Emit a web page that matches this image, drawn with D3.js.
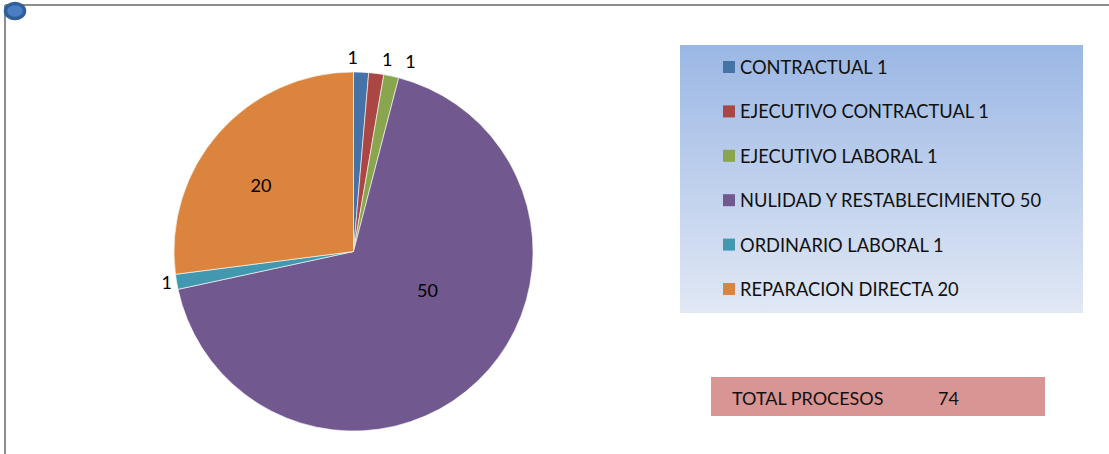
<!DOCTYPE html>
<html>
<head>
<meta charset="utf-8">
<script src="https://cdn.jsdelivr.net/npm/d3@7"></script>
<style>
  body { margin: 0; background: #fff; }
  svg { display: block; font-family: Lato, "Open Sans", sans-serif; }
</style>
</head>
<body>
<svg id="chart"></svg>
<script>
// Data
const categories = ["CONTRACTUAL", "EJECUTIVO CONTRACTUAL", "EJECUTIVO LABORAL",
  "NULIDAD Y RESTABLECIMIENTO", "ORDINARIO LABORAL", "REPARACION DIRECTA"];
const values = [1, 1, 1, 50, 1, 20];
const colors = ["#4572A7", "#AA4643", "#89A54E", "#71588F", "#4198AF", "#DB843D"];
const totalLabel = "TOTAL PROCESOS";

// label placement tweaks (Excel best fit style)
const labelOffsets = [[-9, 0], [9, 0], [16, 0], [-3, -42], [5, -2], [-9, 7]];

const width = 1109, height = 454;
const svg = d3.select("#chart")
  .attr("width", width)
  .attr("height", height);

// frame lines
svg.append("line")
  .attr("x1", 5).attr("x2", width).attr("y1", 5).attr("y2", 5)
  .attr("stroke", "#8c8c8c").attr("stroke-width", 2);
svg.append("line")
  .attr("x1", 5).attr("x2", 5).attr("y1", 5).attr("y2", height)
  .attr("stroke", "#8c8c8c").attr("stroke-width", 2);
svg.append("ellipse")
  .attr("cx", 15).attr("cy", 11).attr("rx", 9.5).attr("ry", 7.5)
  .attr("fill", "#4a7fc4").attr("stroke", "#2f5f9a").attr("stroke-width", 3.5);

// pie
const cx = 353.5, cy = 251.5, r = 179.5;
const total = d3.sum(values);
const data = categories.map((c, i) => ({ name: c, value: values[i], i: i }));

const pie = d3.pie().value(d => d.value).sort(null);
const arc = d3.arc().innerRadius(0).outerRadius(r);
const arcs = pie(data);

const g = svg.append("g").attr("transform", `translate(${cx},${cy})`);

g.selectAll("path")
  .data(arcs)
  .enter()
  .append("path")
  .attr("d", arc)
  .attr("fill", d => colors[d.data.i])
  .attr("stroke", "#fff")
  .attr("stroke-width", 0.6);

// data labels: small slices outside, big slices inside
const outerArc = d3.arc().innerRadius(r + 15).outerRadius(r + 15);
const innerArc = d3.arc().innerRadius(r * 0.62).outerRadius(r * 0.62);

g.selectAll(".lbl")
  .data(arcs)
  .enter()
  .append("text")
  .attr("class", "lbl")
  .attr("transform", d => {
    const p = (d.data.value / total > 0.1 ? innerArc : outerArc).centroid(d);
    const o = labelOffsets[d.data.i];
    return `translate(${p[0] + o[0]},${p[1] + o[1]})`;
  })
  .attr("text-anchor", "middle")
  .attr("dominant-baseline", "central")
  .attr("font-size", 18)
  .attr("fill", "#000")
  .text(d => d.data.value);

// legend box with gradient
const defs = svg.append("defs");
const grad = defs.append("linearGradient")
  .attr("id", "legGrad")
  .attr("x1", 0).attr("x2", 0).attr("y1", 0).attr("y2", 1);
grad.append("stop").attr("offset", "0%").attr("stop-color", "#9BB7E4");
grad.append("stop").attr("offset", "100%").attr("stop-color", "#E1E8F5");

const legX = 680, legY = 45, legW = 403, legH = 268;
svg.append("rect")
  .attr("x", legX).attr("y", legY)
  .attr("width", legW).attr("height", legH)
  .attr("fill", "url(#legGrad)");

const legend = svg.append("g").attr("transform", `translate(${legX},${legY})`);
const rowY = d3.scalePoint()
  .domain(categories)
  .range([22, 244]);

categories.forEach((c, i) => {
  legend.append("rect")
    .attr("x", 43)
    .attr("y", rowY(c) - 6)
    .attr("width", 12)
    .attr("height", 12)
    .attr("fill", colors[i]);
  legend.append("text")
    .attr("x", 60)
    .attr("y", rowY(c))
    .attr("dominant-baseline", "central")
    .attr("font-size", 18.3)
    .attr("fill", "#111")
    .text(c + " " + values[i]);
});

// total box
svg.append("rect")
  .attr("x", 711).attr("y", 377)
  .attr("width", 334).attr("height", 39)
  .attr("fill", "#D99594");
svg.append("text")
  .attr("x", 732).attr("y", 398)
  .attr("dominant-baseline", "central")
  .attr("font-size", 18)
  .attr("fill", "#111")
  .text(totalLabel);
svg.append("text")
  .attr("x", 938).attr("y", 398)
  .attr("dominant-baseline", "central")
  .attr("font-size", 18)
  .attr("fill", "#111")
  .text(total);
</script>
</body>
</html>
